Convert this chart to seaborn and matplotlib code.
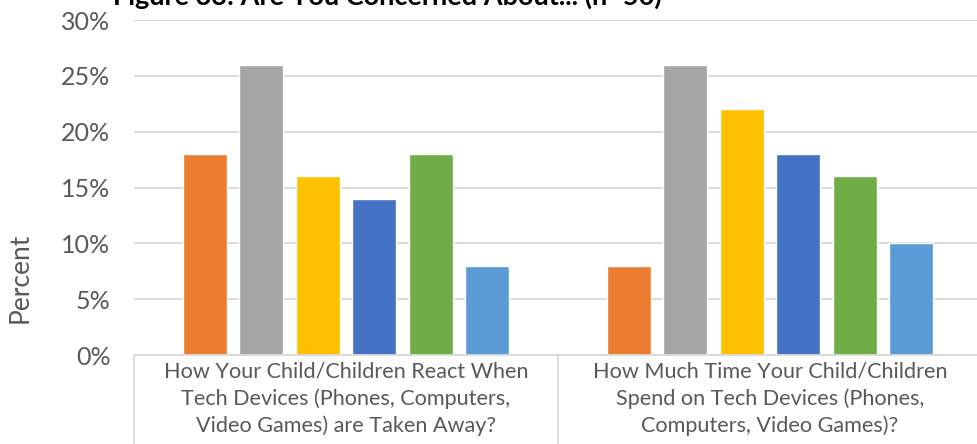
import matplotlib
matplotlib.use("Agg")
import matplotlib.pyplot as plt
import matplotlib.ticker as mticker
import seaborn as sns
import pandas as pd

# Survey data
categories = [
    "How Your Child/Children React When\nTech Devices (Phones, Computers,\nVideo Games) are Taken Away?",
    "How Much Time Your Child/Children\nSpend on Tech Devices (Phones,\nComputers, Video Games)?",
]
levels = ["Level 1", "Level 2", "Level 3", "Level 4", "Level 5", "Level 6"]
react_values = [18, 26, 16, 14, 18, 8]
time_values = [8, 26, 22, 18, 16, 10]
colors = ["#ED7D31", "#A5A5A5", "#FFC000", "#4472C4", "#70AD47", "#5B9BD5"]
yticks = [0, 5, 10, 15, 20, 25, 30]

rows = []
for cat, vals in zip(categories, [react_values, time_values]):
    for lev, v in zip(levels, vals):
        rows.append({"category": cat, "level": lev, "percent": v})
df = pd.DataFrame(rows)

sns.set_theme(style="white")
plt.rcParams["font.family"] = ["Lato", "DejaVu Sans"]

fig = plt.figure(figsize=(9.78, 4.44), dpi=100)
ax = fig.add_axes([134 / 978, 1 - 355 / 444, 848 / 978, 335 / 444])

sns.barplot(
    data=df, x="category", y="percent", hue="level", order=categories,
    hue_order=levels, palette=colors, width=0.8, gap=0.22,
    saturation=1, legend=False, ax=ax,
)

ax.set_ylim(0, 30)
ax.set_xlim(-0.5, 1.5)
ax.set_yticks(yticks)
ax.yaxis.set_major_formatter(mticker.FuncFormatter(lambda v, p: f"{v:.0f}%"))
ax.yaxis.grid(True, color="#D9D9D9", linewidth=1.3)
ax.set_axisbelow(True)
for side in ["top", "right", "left"]:
    ax.spines[side].set_visible(False)
ax.spines["bottom"].set_color("#D9D9D9")
ax.spines["bottom"].set_linewidth(1.3)

ax.tick_params(axis="y", length=0, labelsize=18, labelcolor="#595959", pad=17)
ax.tick_params(axis="x", which="major", length=0, labelsize=15.6, labelcolor="#595959", pad=5)
# category separators below the axis
ax.set_xticks([-0.5, 0.5, 1.5], minor=True)
ax.tick_params(axis="x", which="minor", bottom=True, length=70, width=1.3,
               color="#D9D9D9", direction="out")
for lbl in ax.get_xticklabels():
    lbl.set_linespacing(1.4)

ax.set_xlabel("")
ax.set_ylabel("Percent", fontsize=19, color="#595959")
ax.yaxis.set_label_coords(-0.12, 0.23)

fig.text(387 / 978, 1 - 5 / 444, "Figure 33: Are You Concerned About... (n=50)",
         ha="center", va="baseline", fontsize=19.5, fontweight="bold", color="black")

fig.savefig("out.png", dpi=100)
